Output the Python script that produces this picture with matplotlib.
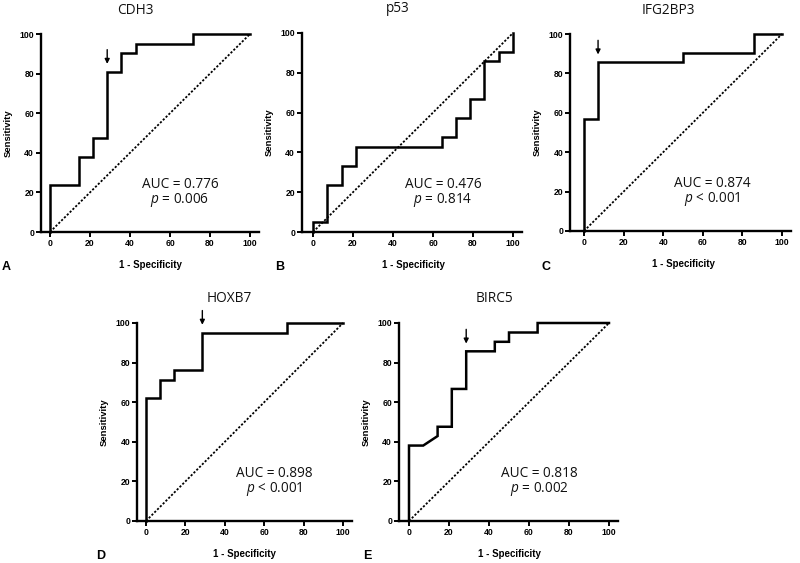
# ROC curves for five markers (A-E)
import matplotlib
matplotlib.use('Agg')
import matplotlib.pyplot as plt

plt.rcParams['mathtext.fontset'] = 'custom'
plt.rcParams['mathtext.it'] = 'Open Sans:italic'
plt.rcParams['mathtext.rm'] = 'Open Sans'

W, H = 800, 563

titles = ['CDH3', 'p53', 'IFG2BP3', 'HOXB7', 'BIRC5']
letters = ['A', 'B', 'C', 'D', 'E']
auc_text = ['0.776', '0.476', '0.874', '0.898', '0.818']
p_text = ['= 0.006', '= 0.814', '< 0.001', '< 0.001', '= 0.002']

# ROC vertices (1 - specificity, sensitivity) in %
cdh3_fpr = [0, 0, 14.3, 14.3, 21.4, 21.4, 28.6, 28.6, 35.7, 35.7, 42.9, 42.9, 71.4, 71.4, 100]
cdh3_tpr = [0, 23.8, 23.8, 38.1, 38.1, 47.6, 47.6, 81.0, 81.0, 90.5, 90.5, 95.2, 95.2, 100, 100]

p53_fpr = [0, 0, 7.1, 7.1, 14.3, 14.3, 21.4, 21.4, 64.3, 64.3, 71.4, 71.4, 78.6, 78.6,
           85.7, 85.7, 92.9, 92.9, 100, 100]
p53_tpr = [0, 4.8, 4.8, 23.8, 23.8, 33.3, 33.3, 42.9, 42.9, 47.6, 47.6, 57.1, 57.1, 66.7,
           66.7, 85.7, 85.7, 90.5, 90.5, 100]

igf_fpr = [0, 0, 7.1, 7.1, 50, 50, 85.7, 85.7, 100]
igf_tpr = [0, 57.1, 57.1, 85.7, 85.7, 90.5, 90.5, 100, 100]

hoxb7_fpr = [0, 0, 7.1, 7.1, 14.3, 14.3, 28.6, 28.6, 71.4, 71.4, 100]
hoxb7_tpr = [0, 61.9, 61.9, 71.4, 71.4, 76.2, 76.2, 95.2, 95.2, 100, 100]

birc5_fpr = [0, 0, 7.1, 14.3, 14.3, 21.4, 21.4, 28.6, 28.6, 42.9, 42.9, 50, 50, 64.3, 64.3, 100]
birc5_tpr = [0, 38.1, 38.1, 42.9, 47.6, 47.6, 66.7, 66.7, 85.7, 85.7, 90.5, 90.5, 95.2, 95.2, 100, 100]

fprs = [cdh3_fpr, p53_fpr, igf_fpr, hoxb7_fpr, birc5_fpr]
tprs = [cdh3_tpr, p53_tpr, igf_tpr, hoxb7_tpr, birc5_tpr]

# arrow marking the chosen cut-off (x, sensitivity); None = no arrow
cutoffs = [(28.6, 81.0), None, (7.1, 85.7), (28.6, 95.2), (28.6, 85.7)]

# pixel layout of each panel: x of 0, x of 100, y of 0, y of 100, left limit
layout = [
    (50, 250, 232, 34, -4.5),
    (313, 513, 232, 33, -5.5),
    (584, 782, 231, 34, -7),
    (146, 343, 521, 323, -4.5),
    (409, 609, 521, 323, -5),
]
letter_pos = [(2, 267), (275, 267), (541, 267), (96, 556), (363, 556)]

fig = plt.figure(figsize=(W / 100, H / 100), dpi=100)
txt_font = 'Open Sans'
lab_font = 'Liberation Sans'


def fx(px):
    return px / W


def fy(py):
    return 1 - py / H


for i in range(5):
    x0, x100, y0, y100, xmin = layout[i]
    s = (x100 - x0) / 100
    xmax = 104.5
    left = x0 + xmin * s
    right = x0 + xmax * s
    ax = fig.add_axes([fx(left), fy(y0), (right - left) / W, (y0 - y100) / H])
    ax.set_xlim(xmin, xmax)
    ax.set_ylim(0, 100)

    ax.plot([0, 100], [0, 100], color='black', linestyle=(0, (1.2, 1.0)), lw=1.3, clip_on=False)
    ax.plot(fprs[i], tprs[i], color='black', lw=1.8, clip_on=False, solid_joinstyle='miter')

    if cutoffs[i] is not None:
        cx, cy = cutoffs[i]
        ax.annotate('', xy=(cx, cy + 2.5), xytext=(cx, cy + 12.5),
                    arrowprops=dict(arrowstyle='-|>', color='black', lw=1.0, mutation_scale=7),
                    annotation_clip=False)

    ax.text(65, 24, 'AUC = ' + auc_text[i], ha='center', va='center',
            fontsize=9.8, family=txt_font, color='#111111')
    ax.text(65, 16, '$p$ ' + p_text[i], ha='center', va='center',
            fontsize=9.8, family=txt_font, color='#111111')

    for side in ['top', 'right']:
        ax.spines[side].set_visible(False)
    for side in ['left', 'bottom']:
        ax.spines[side].set_linewidth(1.7)
    ax.set_xticks(range(0, 101, 20))
    ax.set_yticks(range(0, 101, 20))
    ax.tick_params(length=3.5, width=1.4, pad=1.5, direction='out')
    for lab in ax.get_xticklabels() + ax.get_yticklabels():
        lab.set_fontsize(6.2)
        lab.set_fontweight('bold')
        lab.set_family(lab_font)

    cx_axis = (x0 + x100) / 2
    fig.text(fx(cx_axis - 15), fy(y100 - 24), titles[i], ha='center', va='center',
             fontsize=9.8, family=txt_font, color='#111111')
    fig.text(fx(cx_axis), fy(y0 + 33), '1 - Specificity', ha='center', va='center',
             fontsize=7, fontweight='bold', family=lab_font)
    yaxis_px = x0 + xmin * s
    fig.text(fx(yaxis_px - 33), fy((y0 + y100) / 2), 'Sensitivity', ha='center', va='center',
             rotation=90, fontsize=6.8, fontweight='bold', family=lab_font)
    lx, ly = letter_pos[i]
    fig.text(fx(lx), fy(ly), letters[i], ha='left', va='center',
             fontsize=9, fontweight='bold', family=lab_font)

plt.savefig('out.png', dpi=100)
